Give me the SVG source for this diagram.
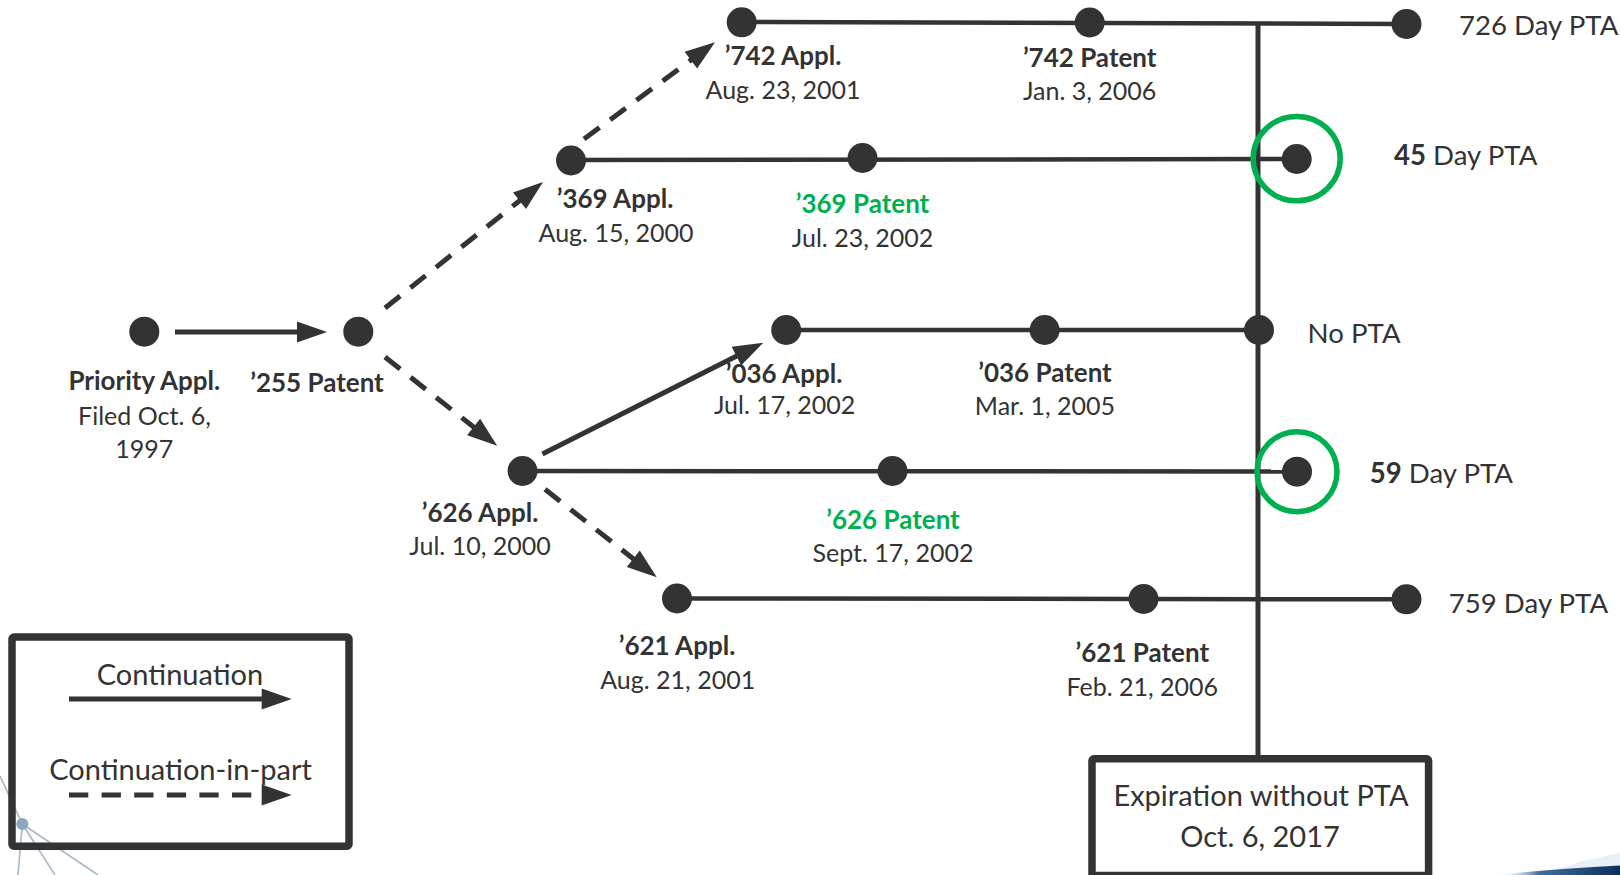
<svg xmlns="http://www.w3.org/2000/svg" width="1620" height="875" viewBox="0 0 1620 875">
  <style>
    text { font-family: Lato, "Open Sans", sans-serif; fill: #333333; }
    .lbl { font-size: 25px; text-anchor: middle; }
    .lbl.b { font-size: 26px; }
    .big { font-size: 29px; }
    .side { font-size: 27.6px; }
    .mid { text-anchor: middle; }
    .b { font-weight: 700; }
    .g { fill: #00b050; }
    .dot { fill: #333333; }
    .tl { stroke: #333333; stroke-width: 4.5; fill: none; }
    .cont { stroke: #333333; stroke-width: 5; fill: none; marker-end: url(#head); }
    .cip { stroke: #333333; stroke-width: 5; fill: none; stroke-dasharray: 19.3 13.3; marker-end: url(#head); }
    .ring { fill: none; stroke: #00b050; stroke-width: 5.5; }
    .frame { fill: none; stroke: #333333; stroke-width: 7.5; }
    .net { stroke: #a9b8c9; stroke-width: 1.6; fill: none; }
  </style>
  <defs>
    <marker id="head" markerUnits="userSpaceOnUse" markerWidth="32" markerHeight="22" refX="2" refY="10.5" orient="auto" overflow="visible">
      <path d="M0,0 L30,10.5 L0,21 Z" fill="#333333"/>
    </marker>
    <linearGradient id="swoosh" x1="0" y1="0" x2="1" y2="0">
      <stop offset="0" stop-color="#ffffff" stop-opacity="0"/>
      <stop offset="0.35" stop-color="#3f6f9f"/>
      <stop offset="1" stop-color="#0b2f5a"/>
    </linearGradient>
  </defs>

  <rect width="1620" height="875" fill="#ffffff"/>

  <!-- background ornaments -->
  <g id="ornament">
    <line class="net" x1="22.3" y1="824" x2="0" y2="776"/>
    <line class="net" x1="22.3" y1="824" x2="18" y2="875"/>
    <line class="net" x1="22.3" y1="824" x2="55" y2="875"/>
    <line class="net" x1="22.3" y1="824" x2="98" y2="875"/>
    <circle cx="22.3" cy="824" r="6" fill="#8ea6c0"/>
    <path d="M1540,875 Q1580,860 1620,853 L1620,866 Q1570,869 1540,875 Z" fill="#dfeaf4" opacity="0.7"/>
    <path d="M1495,875 Q1565,868 1620,865.5 L1620,875 Z" fill="url(#swoosh)"/>
  </g>

  <!-- connectors: timelines and family arrows -->
  <g id="connectors">
    <line class="tl" x1="742" y1="22" x2="1406" y2="24"/>
    <line class="tl" x1="571" y1="160" x2="1297" y2="159"/>
    <line class="tl" x1="786" y1="330" x2="1259" y2="330"/>
    <line class="tl" x1="522" y1="471" x2="1297" y2="471.5"/>
    <line class="tl" x1="677" y1="598.5" x2="1406.5" y2="599.3"/>
    <line class="tl" x1="1258" y1="23" x2="1258" y2="759" style="stroke-width:5"/>

    <line class="cont" x1="175" y1="332" x2="299" y2="332"/>
    <line class="cip" x1="385" y1="308" x2="521.1" y2="199.5"/>
    <line class="cip" x1="584" y1="139" x2="692.5" y2="58.9"/>
    <line class="cip" x1="385" y1="357" x2="475.2" y2="428.3"/>
    <line class="cont" x1="542.4" y1="454" x2="738.2" y2="355.3"/>
    <line class="cip" x1="545" y1="489.3" x2="634.8" y2="560"/>
  </g>

  <g id="priority-appl">
    <circle class="dot" cx="144.3" cy="331.7" r="15"/>
    <text class="lbl b" x="144.3" y="390">Priority Appl.</text>
    <text class="lbl" x="144.5" y="425">Filed Oct. 6,</text>
    <text class="lbl" x="144.3" y="458.3">1997</text>
  </g>

  <g id="patent-255">
    <circle class="dot" cx="358.3" cy="331.7" r="15"/>
    <text class="lbl b" x="317" y="391.7">&#8217;255 Patent</text>
  </g>

  <g id="appl-369">
    <circle class="dot" cx="571" cy="160.5" r="15"/>
    <text class="lbl b" x="615" y="208.3">&#8217;369 Appl.</text>
    <text class="lbl" x="616" y="242.3">Aug. 15, 2000</text>
  </g>

  <g id="appl-742">
    <circle class="dot" cx="741.7" cy="22.3" r="15"/>
    <text class="lbl b" x="783" y="64.5">&#8217;742 Appl.</text>
    <text class="lbl" x="783" y="99.3">Aug. 23, 2001</text>
  </g>

  <g id="patent-742">
    <circle class="dot" cx="1089.7" cy="22.5" r="15"/>
    <text class="lbl b" x="1089.7" y="66.7">&#8217;742 Patent</text>
    <text class="lbl" x="1089.7" y="100">Jan. 3, 2006</text>
  </g>

  <g id="pta-726">
    <circle class="dot" cx="1406.5" cy="24" r="15"/>
    <text class="side" x="1459" y="35">726 Day PTA</text>
  </g>

  <g id="patent-369">
    <circle class="dot" cx="862.5" cy="158" r="15"/>
    <text class="lbl b g" x="862.5" y="213.3">&#8217;369 Patent</text>
    <text class="lbl" x="862.5" y="247">Jul. 23, 2002</text>
  </g>

  <g id="pta-45">
    <ellipse class="ring" cx="1296.7" cy="158.6" rx="43.5" ry="42.2"/>
    <circle class="dot" cx="1296.7" cy="159" r="15"/>
    <text class="side" x="1394" y="165"><tspan class="b">45</tspan> Day PTA</text>
  </g>

  <g id="appl-036">
    <circle class="dot" cx="786.2" cy="330" r="15"/>
    <text class="lbl b" x="784" y="383">&#8217;036 Appl.</text>
    <text class="lbl" x="784.6" y="414.3">Jul. 17, 2002</text>
  </g>

  <g id="patent-036">
    <circle class="dot" cx="1044.6" cy="330" r="15"/>
    <text class="lbl b" x="1045" y="381.7">&#8217;036 Patent</text>
    <text class="lbl" x="1045" y="415">Mar. 1, 2005</text>
  </g>

  <g id="no-pta">
    <circle class="dot" cx="1259" cy="330" r="15"/>
    <text class="side" x="1307.6" y="343.3">No PTA</text>
  </g>

  <g id="appl-626">
    <circle class="dot" cx="522.5" cy="471" r="15"/>
    <text class="lbl b" x="480" y="522">&#8217;626 Appl.</text>
    <text class="lbl" x="480" y="555">Jul. 10, 2000</text>
  </g>

  <g id="patent-626">
    <circle class="dot" cx="892.5" cy="471" r="15"/>
    <text class="lbl b g" x="893" y="529">&#8217;626 Patent</text>
    <text class="lbl" x="893" y="561.7">Sept. 17, 2002</text>
  </g>

  <g id="pta-59">
    <circle class="ring" cx="1297" cy="471.7" r="40"/>
    <circle class="dot" cx="1297" cy="471.7" r="15"/>
    <text class="side" x="1369.7" y="483.3"><tspan class="b">59</tspan> Day PTA</text>
  </g>

  <g id="appl-621">
    <circle class="dot" cx="677" cy="598.5" r="15"/>
    <text class="lbl b" x="677" y="655">&#8217;621 Appl.</text>
    <text class="lbl" x="677.7" y="689.3">Aug. 21, 2001</text>
  </g>

  <g id="patent-621">
    <circle class="dot" cx="1143.5" cy="599" r="15"/>
    <text class="lbl b" x="1142.3" y="661.5">&#8217;621 Patent</text>
    <text class="lbl" x="1142.3" y="695.5">Feb. 21, 2006</text>
  </g>

  <g id="pta-759">
    <circle class="dot" cx="1406.5" cy="599.3" r="15"/>
    <text class="side" x="1448.8" y="613.3">759 Day PTA</text>
  </g>

  <g id="expiration">
    <rect class="frame" x="1092" y="758.8" width="336.6" height="116.7" rx="2"/>
    <text class="big mid" x="1261" y="806">Expiration without PTA</text>
    <text class="big mid" x="1260" y="846.7">Oct. 6, 2017</text>
  </g>

  <g id="legend">
    <rect class="frame" x="12" y="637" width="337" height="209.3" rx="2"/>
    <text class="big mid" x="180" y="685">Continuation</text>
    <line class="cont" x1="69" y1="699" x2="263.7" y2="699"/>
    <text class="big mid" x="180.5" y="780">Continuation-in-part</text>
    <line class="cip" x1="69" y1="795" x2="263.7" y2="795"/>
  </g>
</svg>
